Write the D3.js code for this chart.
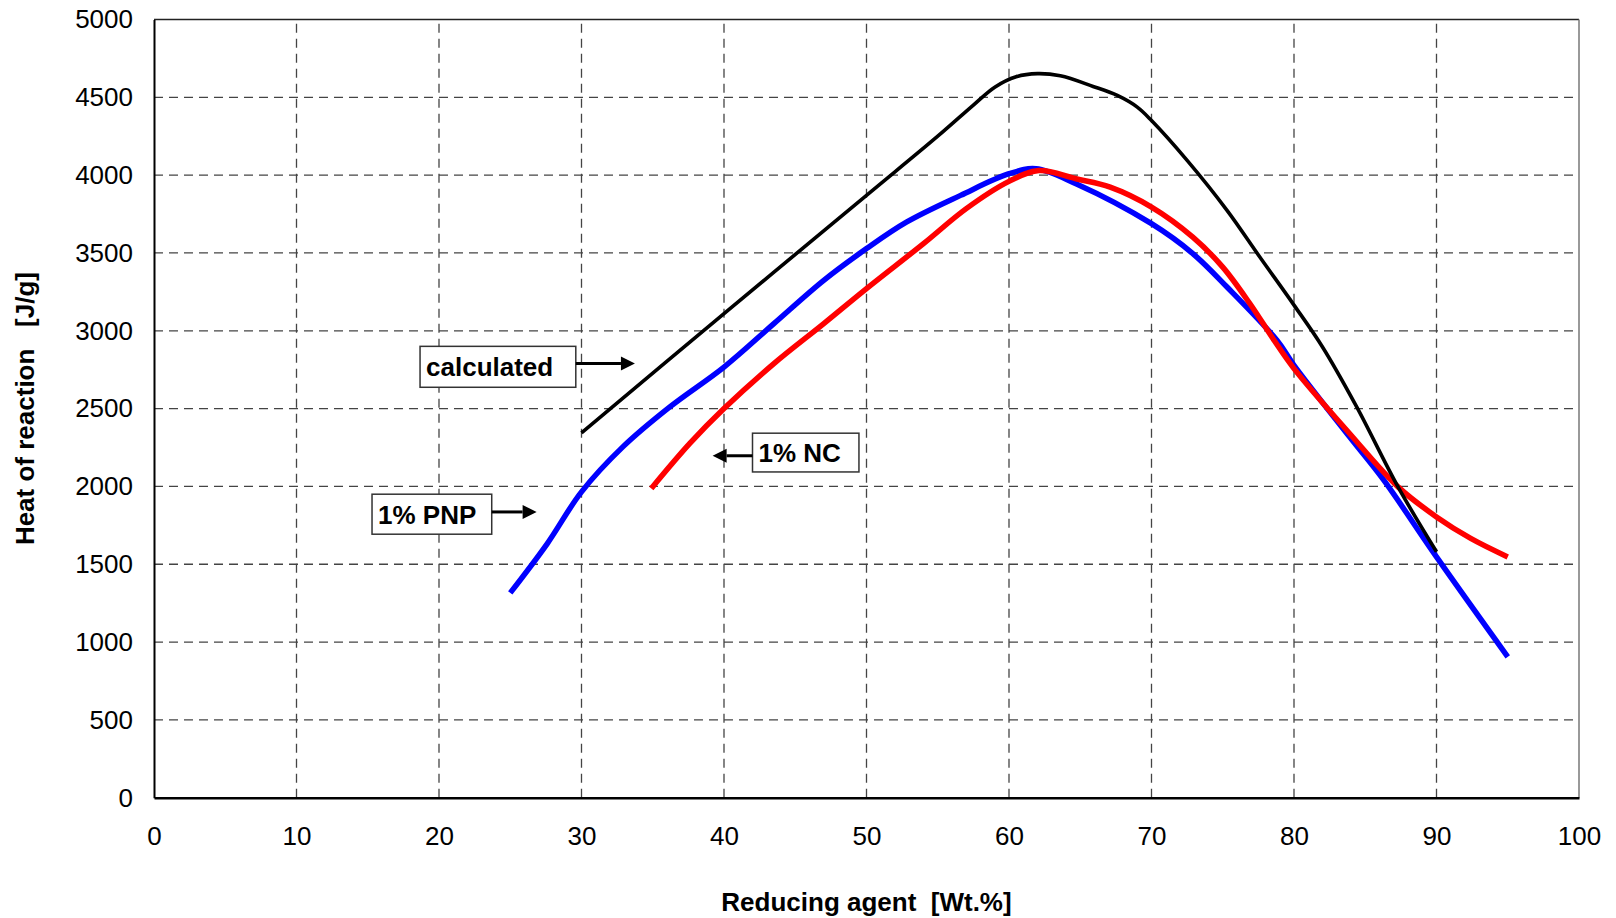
<!DOCTYPE html>
<html>
<head>
<meta charset="utf-8">
<script src="https://cdn.jsdelivr.net/npm/d3@7/dist/d3.min.js"></script>
<style>
  html, body { margin: 0; padding: 0; background: #fff; }
  svg { display: block; font-family: "Liberation Sans", Arial, sans-serif; }
</style>
</head>
<body>
<svg id="chart" width="1616" height="918"></svg>
<script>
// Heat of reaction vs. reducing agent content
const xTicks = [0, 10, 20, 30, 40, 50, 60, 70, 80, 90, 100];
const yTicks = [0, 500, 1000, 1500, 2000, 2500, 3000, 3500, 4000, 4500, 5000];

const calcX = [30, 40, 50, 55, 57.5, 59, 60.5, 62, 63.6, 65.9, 67.6, 69, 70, 72.5, 75.3, 77.6, 80, 82, 84.4, 87.3, 90];
const calcY = [2344, 3110, 3870, 4250, 4450, 4565, 4632, 4652, 4638, 4570, 4512, 4437, 4351, 4095, 3774, 3474, 3165, 2896, 2511, 1997, 1580];

const pnpX = [25, 27.6, 30, 32.9, 36.2, 40, 43.5, 47, 50, 52.8, 56.6, 60, 61.9, 64.7, 70, 72.9, 75.3, 78.8, 80, 83.9, 86.3, 90, 95];
const pnpY = [1316, 1633, 1965, 2254, 2511, 2767, 3046, 3324, 3528, 3698, 3870, 4009, 4041, 3945, 3688, 3496, 3281, 2939, 2778, 2318, 2040, 1547, 905];

const ncX = [34.9, 37.6, 40, 43.5, 47, 50, 54, 57, 60, 62.1, 64.7, 67.1, 70, 72.9, 75, 76.9, 78.6, 80, 83.9, 87.3, 90, 92.4, 95];
const ncY = [1987, 2276, 2500, 2789, 3046, 3271, 3560, 3785, 3960, 4030, 3977, 3923, 3795, 3602, 3409, 3175, 2939, 2757, 2340, 1997, 1804, 1666, 1547];

const seriesNames = ["calculated", "1% PNP", "1% NC"];
const seriesColors = ["#000000", "#0000ff", "#ff0000"];

const svg = d3.select("#chart");
const margin = { left: 154, right: 37, top: 19.5, bottom: 120.3 };
const W = 1616, H = 918;

const x = d3.scaleLinear().domain([0, 100]).range([margin.left, W - margin.right]);
const y = d3.scaleLinear().domain([0, 5000]).range([H - margin.bottom, margin.top]);

// grid
const grid = svg.append("g");
grid.selectAll("line.v").data(xTicks.slice(1, -1)).join("line")
  .attr("x1", d => x(d)).attr("x2", d => x(d))
  .attr("y1", y(0)).attr("y2", y(5000))
  .attr("stroke", "#444").attr("stroke-width", 1.3).attr("stroke-dasharray", "9,6");
grid.selectAll("line.h").data(yTicks.slice(1, -1)).join("line")
  .attr("x1", x(0)).attr("x2", x(100))
  .attr("y1", d => y(d)).attr("y2", d => y(d))
  .attr("stroke", "#444").attr("stroke-width", 1.3).attr("stroke-dasharray", "9,6");

// frame
svg.append("line").attr("x1", x(0)).attr("x2", x(100)).attr("y1", y(5000)).attr("y2", y(5000))
  .attr("stroke", "#222").attr("stroke-width", 1.5);
svg.append("line").attr("x1", x(100)).attr("x2", x(100)).attr("y1", y(5000)).attr("y2", y(0))
  .attr("stroke", "#777").attr("stroke-width", 1.5);

// axes
const yAxis = d3.axisLeft(y).tickValues(yTicks).tickFormat(d3.format("d")).tickSize(0).tickPadding(21);
const gy = svg.append("g").attr("transform", `translate(${x(0)},0)`).call(yAxis);
gy.select(".domain").attr("stroke", "#000").attr("stroke-width", 2);
gy.selectAll("text").attr("font-size", 26).attr("fill", "#000")
  .attr("font-family", "Liberation Sans, Arial, sans-serif");

const xAxis = d3.axisBottom(x).tickValues(xTicks).tickFormat(d3.format("d")).tickSize(0).tickPadding(29);
const gx = svg.append("g").attr("transform", `translate(0,${y(0)})`).call(xAxis);
gx.select(".domain").attr("stroke", "#000").attr("stroke-width", 2.5);
gx.selectAll("text").attr("font-size", 26).attr("fill", "#000")
  .attr("font-family", "Liberation Sans, Arial, sans-serif");

// titles
svg.append("text")
  .attr("x", (x(0) + x(100)) / 2).attr("y", 911)
  .attr("text-anchor", "middle").attr("font-size", 26).attr("font-weight", "bold")
  .style("white-space", "pre")
  .text("Reducing agent  [Wt.%]");
svg.append("text")
  .attr("transform", `translate(34,${(y(0) + y(5000)) / 2}) rotate(-90)`)
  .attr("text-anchor", "middle").attr("font-size", 26).attr("font-weight", "bold")
  .style("white-space", "pre")
  .text("Heat of reaction   [J/g]");

// curves
const line = d3.line().x(d => x(d[0])).y(d => y(d[1])).curve(d3.curveCatmullRom.alpha(0.5));
const series = [
  { xs: pnpX, ys: pnpY, color: seriesColors[1], w: 5.5 },
  { xs: ncX, ys: ncY, color: seriesColors[2], w: 5.5 },
  { xs: calcX, ys: calcY, color: seriesColors[0], w: 3.6 }
];
svg.append("g").selectAll("path").data(series).join("path")
  .attr("d", s => line(s.xs.map((v, i) => [v, s.ys[i]])))
  .attr("fill", "none")
  .attr("stroke", s => s.color)
  .attr("stroke-width", s => s.w)
  .attr("stroke-linejoin", "round");

// boxed labels with arrows (box in data units: x0, x1, yTop, yBottom; arrow y and tip x)
const notes = [
  { text: seriesNames[0], x0: 18.67, x1: 29.6, yt: 2900, yb: 2637, ay: 2789, ax0: 29.6, ax1: 33.75 },
  { text: seriesNames[1], x0: 15.3, x1: 23.7, yt: 1950, yb: 1693, ay: 1836, ax0: 23.7, ax1: 26.85 },
  { text: seriesNames[2], x0: 42.0, x1: 49.47, yt: 2342, yb: 2093, ay: 2197, ax0: 42.0, ax1: 39.2 }
];
const ng = svg.append("g");
notes.forEach(n => {
  const bx = x(n.x0), bw = x(n.x1) - x(n.x0), by = y(n.yt), bh = y(n.yb) - y(n.yt);
  ng.append("rect").attr("x", bx).attr("y", by).attr("width", bw).attr("height", bh)
    .attr("fill", "#fff").attr("stroke", "#333").attr("stroke-width", 1.5);
  ng.append("text").attr("x", bx + 6).attr("y", by + bh / 2 + 9.5)
    .attr("font-size", 26).attr("font-weight", "bold").text(n.text);
  const ay = y(n.ay), a0 = x(n.ax0), a1 = x(n.ax1);
  const dir = a1 > a0 ? 1 : -1;
  const head = 14;
  ng.append("line").attr("x1", a0).attr("x2", a1 - dir * head).attr("y1", ay).attr("y2", ay)
    .attr("stroke", "#000").attr("stroke-width", 3);
  ng.append("path")
    .attr("d", `M${a1},${ay} L${a1 - dir * head},${ay - 7} L${a1 - dir * head},${ay + 7} Z`)
    .attr("fill", "#000");
});
</script>
</body>
</html>
